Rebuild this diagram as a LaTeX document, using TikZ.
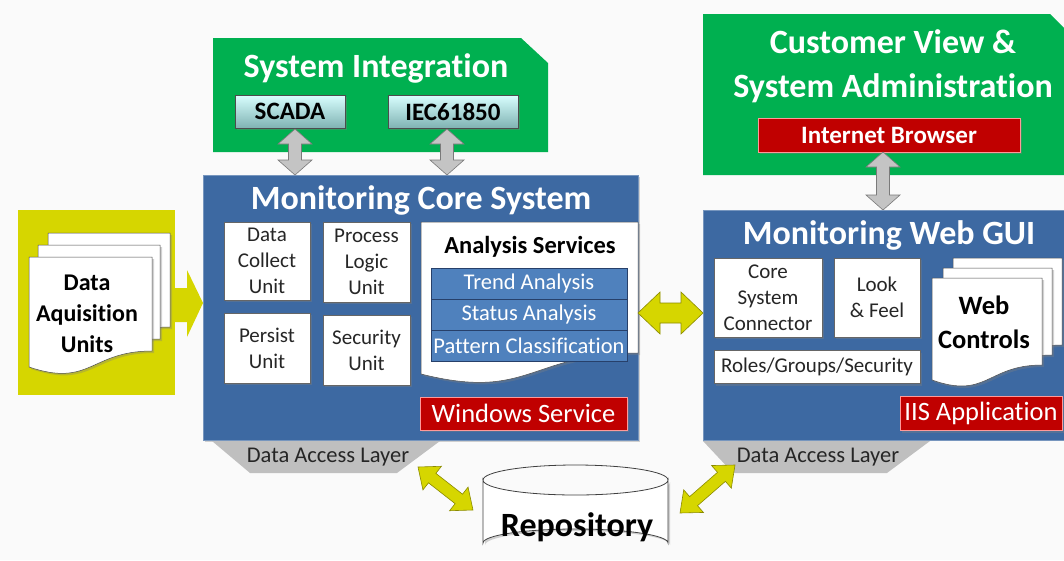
\documentclass[tikz,border=0pt]{standalone}
\usepackage{fontspec}
\setmainfont{Carlito}[Ligatures=NoCommon]
\usetikzlibrary{shadows,calc}
\definecolor{bgc}{HTML}{FAFAFA}
\definecolor{grn}{HTML}{00B050}
\definecolor{coreblue}{HTML}{3D69A2}
\definecolor{rowblue}{HTML}{4F81BD}
\definecolor{rowedge}{HTML}{27406A}
\definecolor{redbox}{HTML}{C00000}
\definecolor{yel}{HTML}{D6D600}
\definecolor{yeledge}{HTML}{8A8A00}
\definecolor{grayfill}{HTML}{C4C4C4}
\definecolor{grayedge}{HTML}{7A7A7A}
\definecolor{dalgray}{HTML}{BFBFBF}
\definecolor{txtdark}{HTML}{262626}
% block double arrow: x1 y1 x2 y2 halfshaft halfhead headlen style
\newcommand\blockdbl[8]{%
  \pgfmathsetmacro\bdlen{veclen(#3-#1,#4-#2)}%
  \pgfmathsetmacro\bdang{atan2(-(#4-#2),#3-#1)}%
  \begin{scope}[shift={(#1,#2)},rotate=\bdang]
    \draw[#8] (0,0) -- (#7,#6) -- (#7,#5) -- (\bdlen-#7,#5) -- (\bdlen-#7,#6)
      -- (\bdlen,0) -- (\bdlen-#7,-#6) -- (\bdlen-#7,-#5) -- (#7,-#5) -- (#7,-#6) -- cycle;
  \end{scope}}
% document shape: L T R BL BR
\newcommand\docshape[6]{%
  \draw[#6] (#1,#2) -- (#3,#2) -- (#3,#5)
   .. controls ({(#1+#3)/2},#5) and ({(#1+#3)/2},{#5+2.3*(#4-#5)}) .. (#1,#4) -- cycle;}
\begin{document}
\begin{tikzpicture}[x=1pt,y=-1pt,
  shad/.style={drop shadow={shadow xshift=2pt,shadow yshift=-2pt,opacity=0.35}},
  unitbox/.style={draw=black!60,line width=0.4pt,fill=white,shad,align=center,
     font=\fontsize{21}{26}\selectfont,text=txtdark,inner sep=0pt},
  bluebox/.style={fill=coreblue,draw=coreblue!70!white,line width=0.6pt,shad,inner sep=0pt},
  title/.style={text=white,font=\bfseries\fontsize{34}{36}\selectfont,inner sep=0pt},
  gtitle/.style={text=white,font=\bfseries\fontsize{34}{44}\selectfont,inner sep=0pt,align=center},
  redlab/.style={fill=redbox,draw=red!40!white,line width=0.6pt,shad,text=white,inner sep=0pt},
  rowbox/.style={fill=rowblue,draw=rowedge,line width=0.8pt,text=white,
     font=\fontsize{22.5}{24}\selectfont,inner sep=0pt,minimum width=196,minimum height=31},
  protobox/.style={top color=cyan!15!white,bottom color=cyan!25!gray!80,draw=black!70,
     line width=0.6pt,shad,font=\bfseries\fontsize{25}{27}\selectfont,inner sep=0pt},
  grayarr/.style={fill=grayfill,draw=grayedge,line width=0.6pt},
  yelarr/.style={fill=yel,draw=yeledge,line width=0.6pt},
  docpage/.style={fill=white,draw=black!70,line width=0.5pt,shad},
  dal/.style={fill=dalgray},
  daltext/.style={text=txtdark,font=\fontsize{22.5}{24}\selectfont,inner sep=0pt}
]
\useasboundingbox (0,0) rectangle (1064,560);
\fill[bgc] (0,0) rectangle (1064,560);

% ---------- Data acquisition ----------
\fill[yel] (18,210) rectangle (175,395);
\fill[yel] (175,288) -- (187,288) -- (187,270) -- (203,303) -- (187,337) -- (187,322) -- (175,322) -- cycle;
\docshape{48}{233}{170}{342}{327}{docpage}
\docshape{38}{245}{160}{354}{339}{docpage}
\docshape{29}{257}{152}{367}{351}{docpage}
\node[align=center,font=\bfseries\fontsize{24}{31}\selectfont,text=black,inner sep=0pt] (dau) at (87,314) {Data\\Aquisition\\Units};

% ---------- System Integration ----------
\fill[grn] (213,38) -- (521,38) -- (548,63) -- (548,152) -- (213,152) -- cycle;
\node[gtitle] (sitxt) at (376,68) {System Integration};
\node[protobox,minimum width=110,minimum height=33] (scada) at (290,111.5) {SCADA};
\node[protobox,minimum width=130,minimum height=33] (iec) at (453,111.5) {IEC61850};

% ---------- Core ----------
\node[bluebox,minimum width=435,minimum height=265] (core) at (420.5,307.5) {};
\node[title] (coretitle) at (421,200) {Monitoring Core System};
\blockdbl{295}{129}{295}{175}{6.5}{17}{15}{grayarr}
\blockdbl{447}{129}{447}{175}{6.5}{17}{15}{grayarr}

\node[unitbox,minimum width=86,minimum height=78] (dcu) at (267,261) {Data\\Collect\\Unit};
\node[unitbox,minimum width=87,minimum height=80] (plu) at (366.5,262) {Process\\Logic\\Unit};
\node[unitbox,minimum width=86,minimum height=70] (pu) at (267,348) {Persist\\Unit};
\node[unitbox,minimum width=87,minimum height=70] (su) at (366.5,350) {Security\\Unit};

\docshape{421}{222}{638}{374}{353}{docpage}
\node[font=\bfseries\fontsize{24.5}{26}\selectfont,text=black,inner sep=0pt] (anal) at (530,247) {Analysis Services};
\node[rowbox] (trend) at (529,283.5) {Trend Analysis};
\node[rowbox] (status) at (529,314.5) {Status Analysis};
\node[rowbox] (pattern) at (529,345.5) {Pattern Classification};
\node[redlab,minimum width=207,minimum height=33,font=\fontsize{26.5}{28}\selectfont] (win) at (523.5,413.5) {Windows Service};

\fill[dal] (212,441) -- (440,441) -- (397,473) -- (250,473) -- cycle;
\node[daltext] (dal1) at (328,457) {Data Access Layer};

% ---------- Customer view ----------
\fill[grn] (703,14) -- (1050,14) -- (1064,28) -- (1064,175) -- (703,175) -- cycle;
\node[gtitle] (cvtxt) at (893,66) {Customer View \&\\System Administration};
\node[redlab,minimum width=262,minimum height=34,font=\bfseries\fontsize{25}{27}\selectfont] (ib) at (889,135) {Internet Browser};
\blockdbl{883}{152}{883}{210}{6.5}{17}{15}{grayarr}

% ---------- Web GUI ----------
\fill[coreblue] (703,210) rectangle (1064,440);
\draw[coreblue!70!white,line width=0.6pt] (1064,210) -- (703,210) -- (703,440) -- (1064,440);
\node[title] (webtitle) at (889,235) {Monitoring Web GUI};
\node[unitbox,minimum width=108,minimum height=79] (csc) at (768,297.5) {Core\\System\\Connector};
\node[unitbox,minimum width=86,minimum height=79] (lf) at (877,297.5) {Look\\\& Feel};
\node[unitbox,minimum width=206,minimum height=33,font=\fontsize{21}{24}\selectfont] (rgs) at (817,367) {Roles/Groups/Security};
\docshape{953}{258}{1062}{360}{345}{docpage}
\docshape{943}{268}{1052}{370}{355}{docpage}
\docshape{932}{278}{1042}{380}{365}{docpage}
\node[align=center,font=\bfseries\fontsize{26.5}{34}\selectfont,text=black,inner sep=0pt] (wc) at (984,322) {Web\\Controls};
\node[redlab,minimum width=162,minimum height=34,font=\fontsize{26.5}{28}\selectfont] (iis) at (981,413.5) {IIS Application};

\fill[dal] (703,441) -- (930,441) -- (887,473) -- (733,473) -- cycle;
\node[daltext] (dal2) at (818,457) {Data Access Layer};

% ---------- Repository ----------
\draw[fill=white,draw=black!75,line width=0.8pt,shad] (483,480) -- (483,543) arc[start angle=180,end angle=360,x radius=92.5,y radius=14] -- (668,480) arc[start angle=0,end angle=180,x radius=92.5,y radius=15] -- cycle;
\draw[black!75,line width=0.8pt] (483,480) arc[start angle=180,end angle=360,x radius=92.5,y radius=15];
\node[font=\bfseries\fontsize{34}{36}\selectfont,text=black,inner sep=0pt] (repo) at (577,527) {Repository};

% ---------- yellow arrows ----------
\blockdbl{638}{313}{703}{313}{10}{21}{22}{yelarr}
\blockdbl{418}{467}{473}{510}{6}{15}{18}{yelarr}
\blockdbl{735}{465}{680}{513}{6}{15}{18}{yelarr}
\end{tikzpicture}
\end{document}
